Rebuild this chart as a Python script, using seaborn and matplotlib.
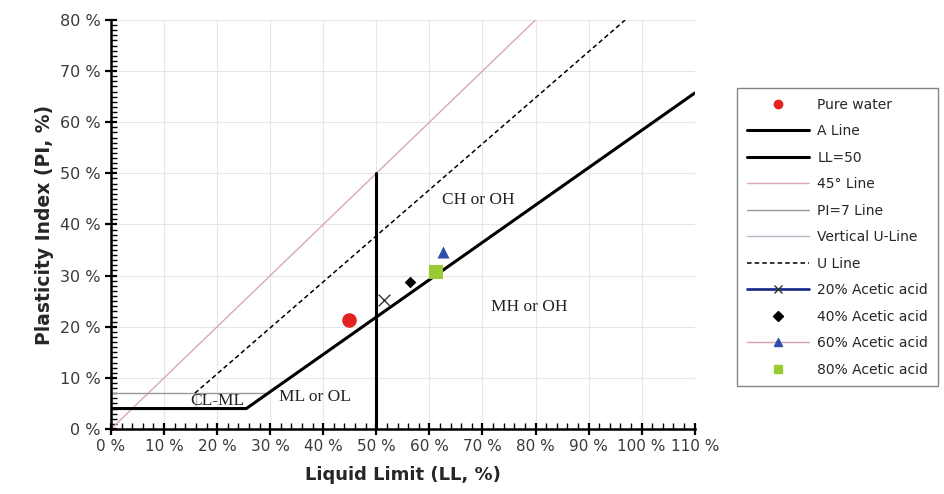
import matplotlib
matplotlib.use("Agg")
import matplotlib.pyplot as plt
import seaborn as sns
import pandas as pd
from matplotlib.lines import Line2D
from matplotlib.ticker import MultipleLocator

# reference lines of the plasticity chart (LL, PI in %)
a_line_ll = [0, 25.5, 110]
a_line_pi = [4, 4, 65.7]
ll50_ll = [50, 50]
ll50_pi = [0, 50]
deg45_ll = [0, 80]
deg45_pi = [0, 80]
pi7_ll = [0, 29.6]
pi7_pi = [7, 7]
vert_u_ll = [16, 16]
vert_u_pi = [4, 7]
u_line_ll = [15.8, 96.9]
u_line_pi = [7, 80]

# measured samples
samples = ["Pure water", "20% Acetic acid", "40% Acetic acid", "60% Acetic acid", "80% Acetic acid"]
sample_ll = [44.9, 51.5, 56.4, 62.5, 61.3]
sample_pi = [21.3, 25.2, 28.8, 34.6, 30.7]

zone_labels = ["CH or OH", "MH or OH", "ML or OL", "CL-ML"]
zone_ll = [69.2, 78.9, 38.5, 20.0]
zone_pi = [44.8, 23.9, 6.3, 5.5]

x_ticks = list(range(0, 111, 10))
x_tick_labels = [f"{v} %" for v in x_ticks]
y_ticks = list(range(0, 81, 10))
y_tick_labels = [f"{v} %" for v in y_ticks]

sns.set_style("white")
plt.rcParams["font.family"] = ["DejaVu Sans"]

fig = plt.figure(figsize=(9.44, 4.94), dpi=100)
ax = fig.add_axes([0.1176, 0.1316, 0.6183, 0.828])

line_specs = [
    (deg45_ll, deg45_pi, dict(color="#d8a8b8", lw=1.0, ls="-")),
    (pi7_ll, pi7_pi, dict(color="#999999", lw=1.0, ls="-")),
    (vert_u_ll, vert_u_pi, dict(color="#b8bcc8", lw=1.0, ls="-")),
    (u_line_ll, u_line_pi, dict(color="black", lw=1.1, ls=(0, (3, 2)))),
    (a_line_ll, a_line_pi, dict(color="black", lw=2.2, ls="-")),
    (ll50_ll, ll50_pi, dict(color="black", lw=2.2, ls="-")),
]
for xs, ys, st in line_specs:
    d = pd.DataFrame({"LL": xs, "PI": ys})
    sns.lineplot(data=d, x="LL", y="PI", ax=ax, estimator=None, sort=False,
                 color=st["color"], linewidth=st["lw"], linestyle=st["ls"])

marker_styles = {
    "Pure water": dict(marker="o", color="#e32222", s=110, ec="#e32222", lw=0),
    "20% Acetic acid": dict(marker="x", color="#333333", s=70, ec="#333333", lw=1.0),
    "40% Acetic acid": dict(marker="D", color="black", s=35, ec="black", lw=0),
    "60% Acetic acid": dict(marker="^", color="#2c4fa8", s=75, ec="#2c4fa8", lw=0),
    "80% Acetic acid": dict(marker="s", color="#99cc33", s=90, ec="#99cc33", lw=0),
}
for name, lx, py in zip(samples, sample_ll, sample_pi):
    st = marker_styles[name]
    sns.scatterplot(x=[lx], y=[py], ax=ax, marker=st["marker"], color=st["color"],
                    s=st["s"], edgecolor=st["ec"], linewidth=st["lw"], zorder=5)

for txt, lx, py in zip(zone_labels, zone_ll, zone_pi):
    ax.text(lx, py, txt, family="Liberation Serif", fontsize=12.5, color="#222222",
            ha="center", va="center", zorder=6)

ax.set_xlim(0, 110)
ax.set_ylim(0, 80)
ax.set_xticks(x_ticks)
ax.set_xticklabels(x_tick_labels)
ax.set_yticks(y_ticks)
ax.set_yticklabels(y_tick_labels)
ax.xaxis.set_minor_locator(MultipleLocator(2))
ax.yaxis.set_minor_locator(MultipleLocator(1))
ax.grid(True, which="major", color="#e6e6e6", lw=0.8)
ax.set_axisbelow(True)
for side in ["top", "right"]:
    ax.spines[side].set_visible(False)
for side in ["left", "bottom"]:
    ax.spines[side].set_color("black")
    ax.spines[side].set_linewidth(1.8)
ax.tick_params(which="both", bottom=True, left=True, top=False, right=False)
ax.tick_params(which="major", direction="inout", length=9, width=1.6, colors="black",
               labelsize=11.5, labelcolor="#3a3a3a", pad=3)
ax.tick_params(which="minor", direction="in", length=4, width=1.0, colors="black")
ax.tick_params(axis="x", which="major", labelsize=11)
ax.set_xlabel("Liquid Limit (LL, %)", fontsize=13, fontweight="bold", labelpad=8)
ax.set_ylabel("Plasticity Index (PI, %)", fontsize=13.5, fontweight="bold", labelpad=4)

handles = [
    Line2D([], [], ls="none", marker="o", color="#e32222", ms=6),
    Line2D([], [], color="black", lw=2.2),
    Line2D([], [], color="black", lw=2.2),
    Line2D([], [], color="#d8a8b8", lw=1.0),
    Line2D([], [], color="#999999", lw=1.0),
    Line2D([], [], color="#b8bcc8", lw=1.0),
    Line2D([], [], color="black", lw=1.1, ls=(0, (3, 2))),
    Line2D([], [], color="#1f2f8a", lw=2.0, marker="x", mec="#333333", ms=6),
    Line2D([], [], ls="none", marker="D", color="black", ms=5),
    Line2D([], [], color="#d8a0a8", lw=1.0, marker="^", mfc="#2c4fa8", mec="#2c4fa8", ms=6),
    Line2D([], [], ls="none", marker="s", color="#99cc33", ms=6),
]
labels = ["Pure water", "A Line", "LL=50", "45° Line", "PI=7 Line", "Vertical U-Line",
          "U Line", "20% Acetic acid", "40% Acetic acid", "60% Acetic acid", "80% Acetic acid"]
fig.legend(handles, labels, loc="upper left", bbox_to_anchor=(0.781, 0.822),
           fontsize=10, frameon=True, fancybox=False, edgecolor="#666666",
           handlelength=4.5, handletextpad=0.55, labelspacing=0.9, borderpad=0.7,
           borderaxespad=0)

fig.savefig("out.png", dpi=100)
